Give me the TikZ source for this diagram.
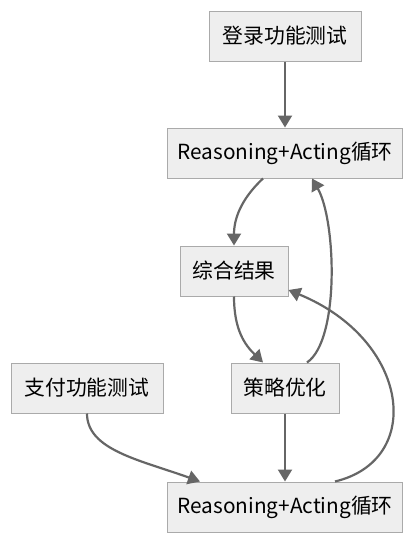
\documentclass[tikz,border=0pt]{standalone}
\usepackage{fontspec}
\setmainfont{Noto Sans CJK SC}
\usetikzlibrary{arrows.meta}
\definecolor{boxfill}{HTML}{EEEEEE}
\definecolor{boxline}{HTML}{AAAAAA}
\definecolor{edgecol}{HTML}{666666}
\tikzset{
  stepbox/.style={draw=boxline, fill=boxfill, line width=1pt, minimum height=50pt, inner xsep=10pt, font=\fontsize{20.8pt}{24pt}\selectfont},
  flow/.style={draw=edgecol, line width=2.2pt, -{Triangle[length=12pt,width=14pt]}}
}
\begin{document}
\begin{tikzpicture}[x=1pt,y=-1pt]
            \useasboundingbox (0,0) rectangle (413,541);

            \node[stepbox, minimum width=152pt] (login) at (285,36) {登录功能测试};
            \node[stepbox, minimum width=234pt] (loopA) at (285,153) {Reasoning+Acting循环};
            \node[stepbox, minimum width=108pt] (merge) at (234,271) {综合结果};
            \node[stepbox, minimum width=152pt] (pay) at (87,388) {支付功能测试};
            \node[stepbox, minimum width=108pt] (tune) at (285,388) {策略优化};
            \node[stepbox, minimum width=234pt] (loopB) at (285,507) {Reasoning+Acting循环};

            \draw[flow] (login) -- (loopA);
            \draw[flow] ([xshift=-22pt]loopA.south) .. controls (240,200) and (234,220) .. (merge.north);
            \draw[flow] (merge.south) .. controls (234,330) and (245,345) .. ([xshift=-22pt]tune.north);
            \draw[flow] ([xshift=22pt]tune.north) .. controls (340,340) and (336,220) .. ([xshift=27pt]loopA.south);
            \draw[flow] (tune) -- (loopB);
            \draw[flow] (pay.south) .. controls (87,450) and (140,460) .. ([xshift=-85pt]loopB.north);
            \draw[flow] ([xshift=50pt]loopB.north) .. controls (425,460) and (410,340) .. (merge.east |- 0,290);
        \end{tikzpicture}
\end{document}
